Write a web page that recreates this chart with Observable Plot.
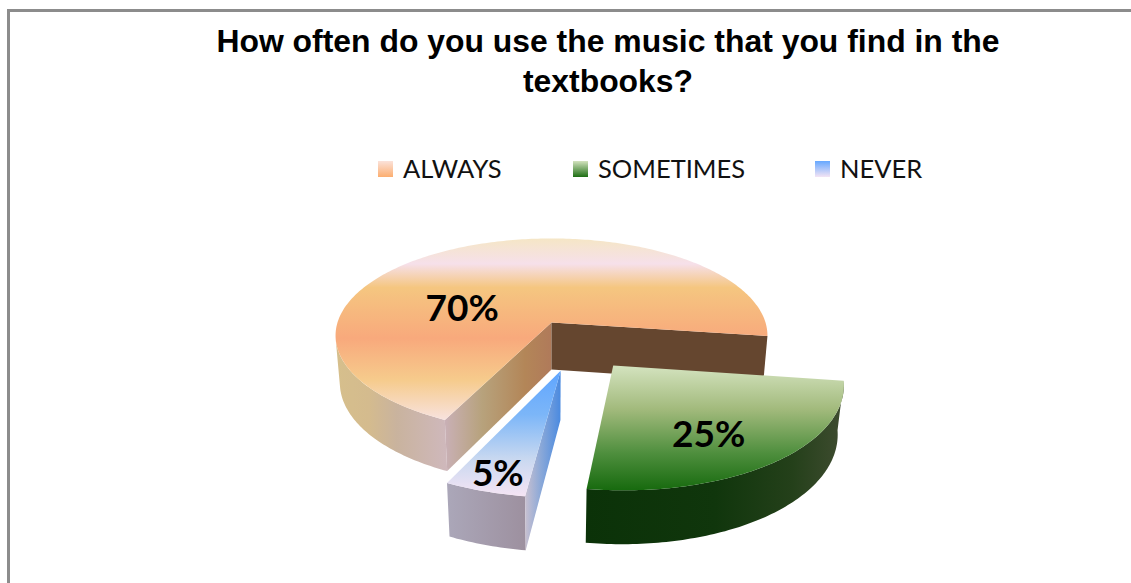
<!DOCTYPE html>
<html>
<head>
<meta charset="utf-8">
<script src="https://cdn.jsdelivr.net/npm/d3@7"></script>
<script src="https://cdn.jsdelivr.net/npm/@observablehq/plot@0.6"></script>
<style>
  html, body { margin: 0; padding: 0; background: #fff; }
  #page { position: relative; width: 1131px; height: 583px; overflow: hidden; }
  #frame { position: absolute; left: 7px; top: 9px; right: -4px; bottom: -4px;
           border: 3px solid #8c8c8c; box-sizing: border-box; }
  h1 { position: absolute; left: 108px; top: 21px; width: 1000px; margin: 0; text-align: center;
       font: bold 31.9px/40px "Liberation Sans", Arial, sans-serif; color: #000; }
  .key { position: absolute; top: 153px; font: 25.5px/30px Lato, sans-serif; color: #111; white-space: nowrap; }
  .key i { position: absolute; top: 8px; width: 15px; height: 16px; }
  #plot { position: absolute; left: 0; top: 190px; }
</style>
</head>
<body>
<div id="page">
  <div id="frame"></div>
  <h1>How often do you use the music that you find in the<br>textbooks?</h1>
  <div id="legend"></div>
  <div id="plot"></div>
</div>
<script>
// Survey answers
const categories = ["ALWAYS", "SOMETIMES", "NEVER"];
const shares = [70, 25, 5];

// Surface colours for each answer
const topColors = {
  ALWAYS: [[0, "#f5e6c6"], [0.14, "#f6e0ea"], [0.27, "#f5c680"], [0.55, "#f8a97c"], [0.78, "#f6cb8c"], [1, "#f8e2de"]],
  SOMETIMES: [[0, "#d4e3bf"], [0.35, "#a2ba7c"], [0.7, "#4f8f3e"], [1, "#176a0e"]],
  NEVER: [[0, "#5fa5ff"], [0.35, "#7cb6f8"], [0.7, "#c8d8f0"], [1, "#f5e4f4"]]
};
const rimColors = {
  ALWAYS: [[0, "#d6bf8c"], [0.3, "#d4bb8e"], [0.55, "#c9b39e"], [1, "#cfb8bc"]],
  SOMETIMES: [[0, "#0b3208"], [0.5, "#10360c"], [0.8, "#24401a"], [1, "#3f4c30"]],
  NEVER: [[0, "#aba7b9"], [1, "#9d909f"]]
};
const wallColors = {
  ALWAYS: [[0, "#c9b0b6"], [0.35, "#b7a27c"], [0.75, "#b38658"], [1, "#b07a5a"]],
  NEVER: [[0, "#c8c0d0"], [0.45, "#8aa8d8"], [1, "#4a8ae0"]]
};
const backWallColor = "#65462f";
const legendColors = {
  ALWAYS: ["#fbe2da", "#fcae70"],
  SOMETIMES: ["#d4e3bf", "#1d6e13"],
  NEVER: ["#66a8ff", "#f4e4f4"]
};
const legendLeft = {ALWAYS: 378, SOMETIMES: 573, NEVER: 815};

// Perspective view of the disc: hub, radii, foreshortening and thickness
const view = {hubX: 551, hubY: 322, radiusX: 214, radiusY: 95.3, recede: 0.134, depth: 48, shrink: 0.02};
const firstSliceAngle = -154;
const explode = {ALWAYS: [0, 0], SOMETIMES: [0.272, -0.425], NEVER: [0.04, -0.475]};
const labelOffset = {ALWAYS: [-33, 34], SOMETIMES: [3, 15], NEVER: [-20, 35]};
const svgTop = 190, svgHeight = 393, svgWidth = 1131;

// Disc coordinates (u right, v away from the viewer, z down) to chart coordinates
function project(u, v, z) {
  const w = 1 / (1 + view.recede * v + view.shrink * z);
  return {
    x: view.hubX + view.radiusX * u * w,
    y: view.hubY - view.radiusY * v * w + view.depth * z * w
  };
}

const pie = d3.pie().sort(null).startAngle(firstSliceAngle * Math.PI / 180).endAngle((firstSliceAngle + 360) * Math.PI / 180);
const slices = pie(shares).map((s, i) => ({name: categories[i], value: shares[i], a0: s.startAngle, a1: s.endAngle}));

const rimPoint = (s, a, r, z) => {
  const [ox, oy] = explode[s.name];
  return project(r * Math.sin(a) + ox, r * Math.cos(a) + oy, z);
};
const arc = (s, a0, a1, z) => {
  const n = Math.max(2, Math.ceil(Math.abs(a1 - a0) * 60));
  return d3.range(n + 1).map((i) => rimPoint(s, a0 + (a1 - a0) * i / n, 1, z));
};
const hub = (s, z) => rimPoint(s, 0, 0, z);
const topFace = (s) => [hub(s, 0), ...arc(s, s.a0, s.a1, 0)];
const rim = (s, a0, a1) => [...arc(s, a0, a1, 0), ...arc(s, a1, a0, 1)];
const wall = (s, a) => [hub(s, 0), rimPoint(s, a, 1, 0), rimPoint(s, a, 1, 1), hub(s, 1)];

// Gradient definitions referenced by the faces below
function gradient(id, stops, horizontal) {
  const g = d3.create("svg:linearGradient").attr("id", id)
    .attr("x1", 0).attr("y1", 0)
    .attr("x2", horizontal ? 1 : 0).attr("y2", horizontal ? 0 : 1);
  for (const [o, c] of stops) g.append("stop").attr("offset", o).attr("stop-color", c);
  return g.node();
}
const defsMark = () => {
  const defs = d3.create("svg:defs");
  for (const name of categories) {
    defs.append(() => gradient("top-" + name, topColors[name], false));
    defs.append(() => gradient("rim-" + name, rimColors[name], true));
    if (wallColors[name]) defs.append(() => gradient("wall-" + name, wallColors[name], true));
  }
  return defs.node();
};

const face = (points, fill) => Plot.line(points, {x: "x", y: "y", fill, stroke: "none", curve: "linear"});
const always = slices[0], sometimes = slices[1], never = slices[2];
const rad = (d) => d * Math.PI / 180;

const labels = slices.map((s) => {
  const mid = (s.a0 + s.a1) / 2;
  const at = rimPoint(s, mid, 0.6, 0);
  const [dx, dy] = labelOffset[s.name];
  return Plot.text([{...at, text: s.value + "%"}], {
    x: "x", y: "y", text: "text", dx, dy,
    fontFamily: "Lato, sans-serif", fontWeight: 700, fontSize: 37, fill: "#000"
  });
});

const chart = Plot.plot({
  width: svgWidth,
  height: svgHeight,
  margin: 0,
  x: {domain: [0, svgWidth], range: [0, svgWidth], axis: null},
  y: {domain: [svgTop, svgTop + svgHeight], range: [0, svgHeight], axis: null},
  marks: [
    defsMark,
    // largest slice: outer rim, the two cut walls, then the top
    face(rim(always, rad(-100), always.a0), "url(#rim-ALWAYS)"),
    face(wall(always, always.a0), "url(#wall-ALWAYS)"),
    face(wall(always, always.a1), backWallColor),
    face(topFace(always), "url(#top-ALWAYS)"),
    // small slice pulled out towards the front
    face(rim(never, never.a0, never.a1), "url(#rim-NEVER)"),
    face(wall(never, never.a0), "url(#wall-NEVER)"),
    face(topFace(never), "url(#top-NEVER)"),
    // middle slice pulled out to the lower right
    face(rim(sometimes, sometimes.a0, sometimes.a1), "url(#rim-SOMETIMES)"),
    face(topFace(sometimes), "url(#top-SOMETIMES)"),
    ...labels
  ]
});
document.getElementById("plot").append(chart);

// Legend row above the chart
const legend = d3.select("#legend");
for (const name of categories) {
  const [from, to] = legendColors[name];
  const key = legend.append("div").attr("class", "key")
    .style("left", legendLeft[name] + "px").style("padding-left", "25px");
  key.append("i").style("left", 0).style("background", `linear-gradient(${from}, ${to})`);
  key.append("span").text(name);
}
</script>
</body>
</html>
